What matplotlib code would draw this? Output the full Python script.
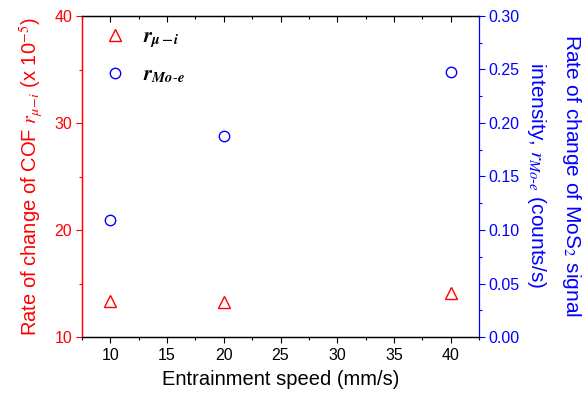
import matplotlib
matplotlib.use("Agg")
import matplotlib.pyplot as plt
from matplotlib.ticker import MultipleLocator

plt.rcParams['font.family'] = ['Liberation Sans', 'DejaVu Sans']
plt.rcParams['mathtext.fontset'] = 'stix'

speed = [10, 20, 40]
r_mu_i = [13.35, 13.3, 14.1]      # x 1e-5
r_mo_e = [0.109, 0.188, 0.248]    # counts/s

RED = '#ff0000'
BLUE = '#0000ff'

fig = plt.figure(figsize=(5.83, 4.01), dpi=100)
ax = fig.add_axes([82 / 583, 1 - 337 / 401, (479 - 82) / 583, (337 - 16) / 401])
ax2 = ax.twinx()

l1, = ax.plot(speed, r_mu_i, linestyle='none', marker='^', markersize=8.5,
              markerfacecolor='none', markeredgecolor=RED, markeredgewidth=1.0)
l2, = ax2.plot(speed, r_mo_e, linestyle='none', marker='o', markersize=7.5,
               markerfacecolor='none', markeredgecolor=BLUE, markeredgewidth=1.0)

ax.set_xlim(7.5, 42.5)
ax.set_ylim(10, 40)
ax2.set_ylim(0, 0.30)

ax.xaxis.set_major_locator(MultipleLocator(5))
ax.xaxis.set_minor_locator(MultipleLocator(2.5))
ax.yaxis.set_major_locator(MultipleLocator(10))
ax.yaxis.set_minor_locator(MultipleLocator(5))
ax2.yaxis.set_major_locator(MultipleLocator(0.05))
ax2.yaxis.set_minor_locator(MultipleLocator(0.025))
ax2.yaxis.set_major_formatter(plt.FormatStrFormatter('%.2f'))

ax.tick_params(axis='x', which='both', direction='out', top=True, labelsize=11.5, pad=4)
ax.tick_params(axis='x', which='major', length=4, width=0.8)
ax.tick_params(axis='x', which='minor', length=2.5, width=0.8)
ax.tick_params(axis='y', which='both', direction='out', colors=RED, labelsize=11.5, pad=3)
ax.tick_params(axis='y', which='major', length=4, width=0.8)
ax.tick_params(axis='y', which='minor', length=2.5, width=0.8)
ax2.tick_params(axis='y', which='both', direction='out', colors=BLUE, labelsize=11.5, pad=3)
ax2.tick_params(axis='y', which='major', length=4, width=0.8)
ax2.tick_params(axis='y', which='minor', length=2.5, width=0.8)

# top ticks point inward
for t in ax.xaxis.get_major_ticks() + ax.xaxis.get_minor_ticks():
    t.tick2line.set_marker(3)

for s in ax.spines.values():
    s.set_linewidth(0.9)
for s in ax2.spines.values():
    s.set_linewidth(0.9)
ax.spines['left'].set_color(RED)
ax2.spines['left'].set_color(RED)
ax2.spines['right'].set_color(BLUE)
ax.spines['right'].set_visible(False)

ax.set_xlabel('Entrainment speed (mm/s)', fontsize=14.5, labelpad=5)
ax.set_ylabel(r'Rate of change of COF $r_{\mu\!-\!i}$ (x 10$^{-5}$)',
              fontsize=14.5, color=RED, labelpad=6)
fig.text(554 / 583, 1 - 175 / 401,
         'Rate of change of MoS$_2$ signal\n'
         r'intensity, $r_{Mo\text{-}e}$ (counts/s)',
         fontsize=15, color=BLUE, rotation=270, ha='center', va='center',
         multialignment='center', linespacing=1.7, rotation_mode='anchor')

leg = ax.legend([l1, l2],
                [r'$\boldsymbol{r}_{\boldsymbol{\mu-i}}$',
                 r'$\boldsymbol{r}_{\boldsymbol{Mo}\text{-}\boldsymbol{e}}$'],
                loc='upper left', frameon=False, fontsize=15,
                bbox_to_anchor=(0.057, 0.965), borderpad=0, borderaxespad=0,
                handlelength=1.0, handletextpad=0.85, labelspacing=0.75)

fig.savefig('out.png', dpi=100)
